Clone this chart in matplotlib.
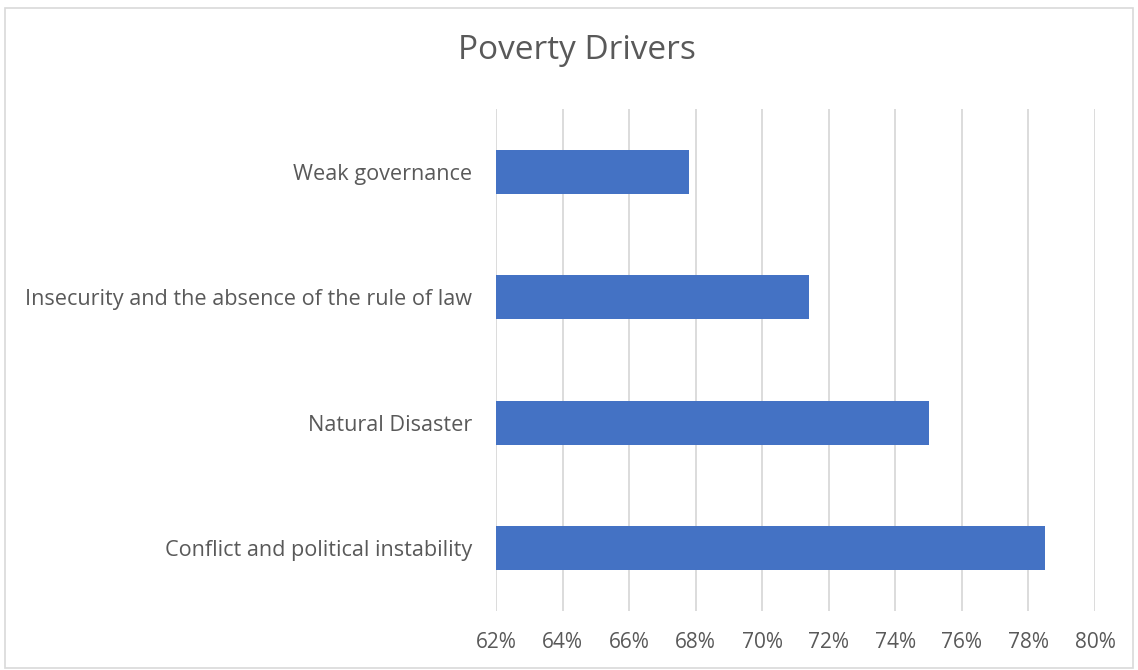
import matplotlib.pyplot as plt
import matplotlib.patches as mpatches
from matplotlib.ticker import FuncFormatter

# data, bottom to top
categories = ["Conflict and political instability",
              "Natural Disaster",
              "Insecurity and the absence of the rule of law",
              "Weak governance"]
values = [78.5, 75.0, 71.4, 67.8]
tick_vals = [62, 64, 66, 68, 70, 72, 74, 76, 78, 80]

plt.rcParams['font.family'] = ['Open Sans', 'DejaVu Sans']

fig = plt.figure(figsize=(11.38, 6.70), dpi=100)
ax = fig.add_axes([0.4359, 0.0881, 0.5263, 0.7492])

ax.barh(categories, values, height=0.35, color='#4472C4', zorder=3)

ax.set_xlim(62, 80)
ax.set_ylim(-0.5, len(categories) - 0.5)
ax.set_xticks(tick_vals)
ax.xaxis.set_major_formatter(FuncFormatter(lambda v, p: f"{v:.0f}%"))
ax.grid(axis='x', color='#d9d9d9', linewidth=1.3, zorder=0)
for s in ax.spines.values():
    s.set_visible(False)
ax.tick_params(axis='x', length=0, pad=15, labelsize=15, labelcolor='#595959')
ax.tick_params(axis='y', length=0, pad=17, labelsize=15.6, labelcolor='#595959')

fig.text(0.507, 0.925, "Poverty Drivers", ha='center', va='center',
         fontsize=24, color='#595959')

# chart area border
border = mpatches.Rectangle((0.004, 0.003), 0.992, 0.985, transform=fig.transFigure,
                            fill=False, edgecolor='#d9d9d9', linewidth=1.2)
fig.patches.append(border)

fig.savefig('out.png', dpi=100)
